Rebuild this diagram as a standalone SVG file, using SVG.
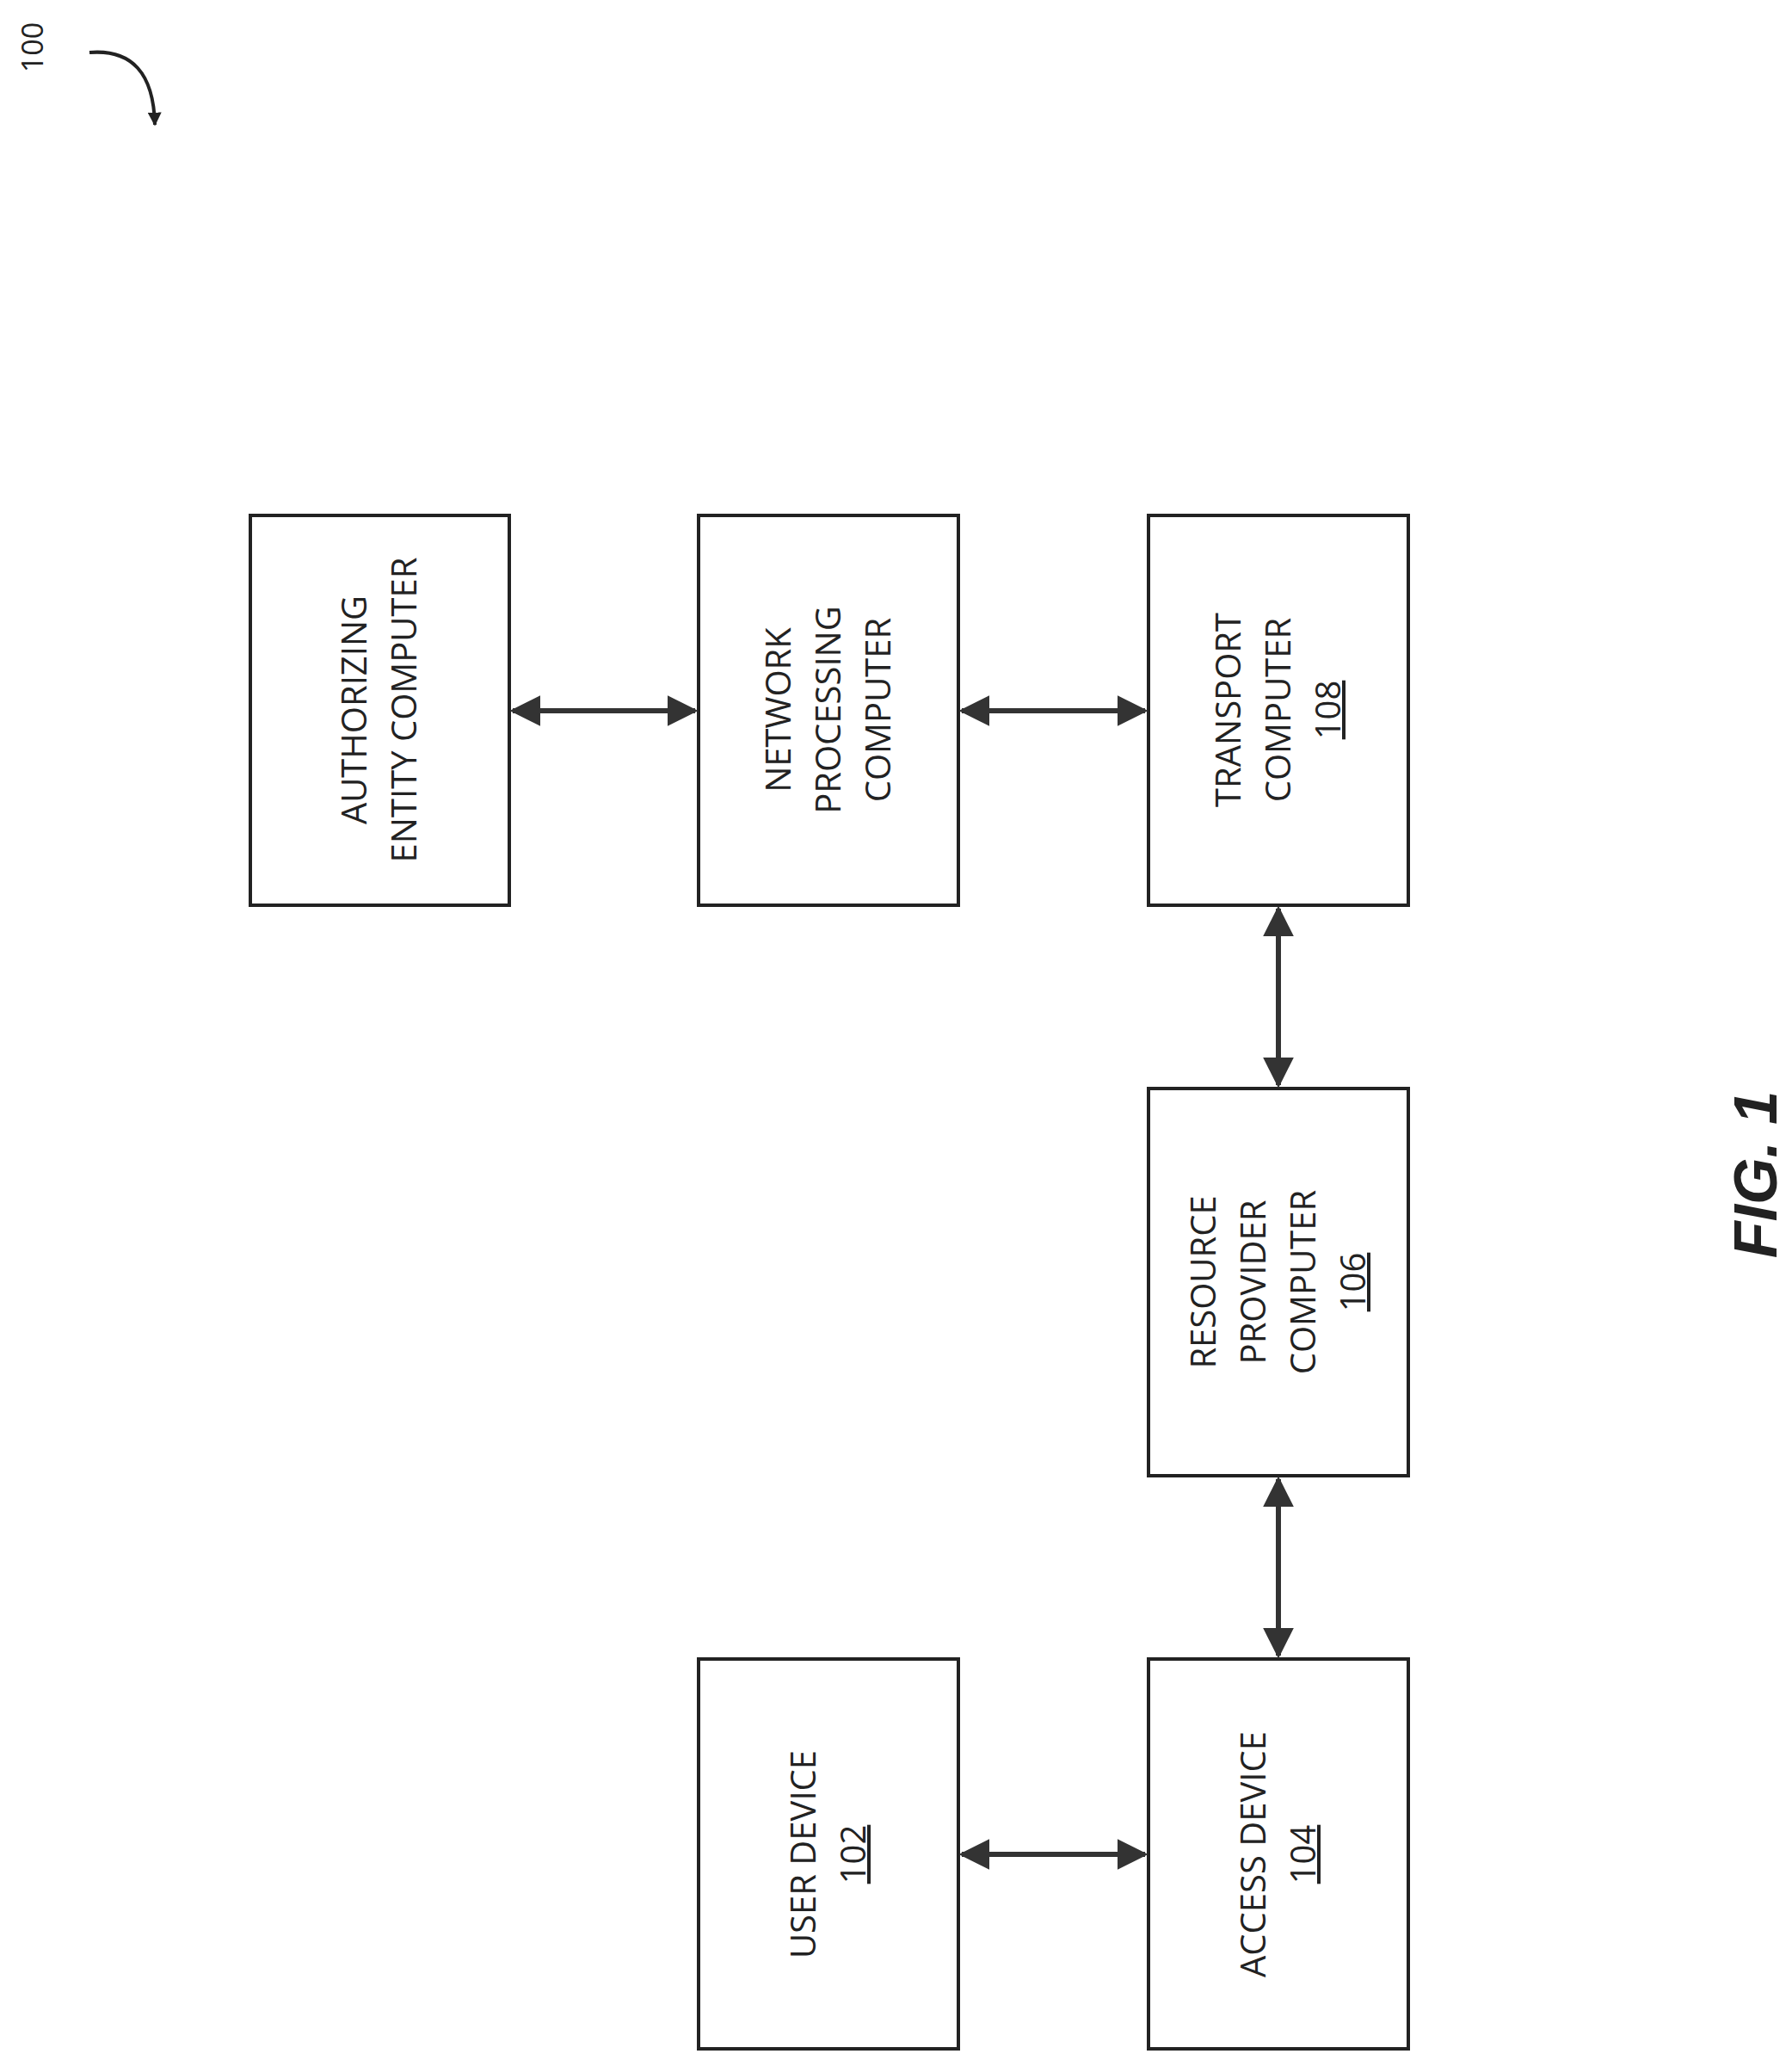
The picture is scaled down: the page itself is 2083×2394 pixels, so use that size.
<svg xmlns="http://www.w3.org/2000/svg" width="2083" height="2394" viewBox="0 0 2083 2394">
<style>
.box{fill:#fff;stroke:#222;stroke-width:4}
.t{font-family:"Open Sans","Liberation Sans",sans-serif;font-size:40px;fill:#222;text-anchor:middle}
.u{text-decoration:underline}
.c{stroke:#333;stroke-width:6;fill:none;marker-start:url(#a);marker-end:url(#a)}
</style>
<defs>
<marker id="a" viewBox="0 0 10 10" refX="9" refY="5" markerWidth="6" markerHeight="6" orient="auto-start-reverse"><path d="M0,0 L10,5 L0,10 z" fill="#333"/></marker>
<marker id="b" viewBox="0 0 10 10" refX="9" refY="5" markerWidth="4" markerHeight="4" orient="auto"><path d="M0,0 L10,5 L0,10 z" fill="#222"/></marker>
</defs>
<text class="t" transform="translate(50,55) rotate(-90)" style="font-size:34px">100</text>
<path d="M104,61 Q178,55 180,145" stroke="#222" stroke-width="4" fill="none" marker-end="url(#b)"/>
<g id="n112"><rect class="box" x="291" y="599" width="301" height="453"/>
<g transform="translate(441,825) rotate(-90)"><text class="t" y="-15">AUTHORIZING</text><text class="t" y="43">ENTITY COMPUTER</text><text class="t u" y="101"> </text></g>
</g>
<g id="n110"><rect class="box" x="812" y="599" width="302" height="453"/>
<g transform="translate(963,825) rotate(-90)"><text class="t" y="-44">NETWORK</text><text class="t" y="14">PROCESSING</text><text class="t" y="72">COMPUTER</text></g>
</g>
<g id="n108"><rect class="box" x="1335" y="599" width="302" height="453"/>
<g transform="translate(1486,825) rotate(-90)"><text class="t" y="-44">TRANSPORT</text><text class="t" y="14">COMPUTER</text><text class="t u" y="72">108</text></g>
</g>
<g id="n106"><rect class="box" x="1335" y="1265" width="302" height="450"/>
<g transform="translate(1486,1490) rotate(-90)"><text class="t" y="-73">RESOURCE</text><text class="t" y="-15">PROVIDER</text><text class="t" y="43">COMPUTER</text><text class="t u" y="101">106</text></g>
</g>
<g id="n102"><rect class="box" x="812" y="1928" width="302" height="453"/>
<g transform="translate(963,2155) rotate(-90)"><text class="t" y="-15">USER DEVICE</text><text class="t u" y="43">102</text></g>
</g>
<g id="n104"><rect class="box" x="1335" y="1928" width="302" height="453"/>
<g transform="translate(1486,2155) rotate(-90)"><text class="t" y="-15">ACCESS DEVICE</text><text class="t u" y="43">104</text></g>
</g>
<g id="connectors">
<line class="c" x1="596" y1="826" x2="808" y2="826"/>
<line class="c" x1="1118" y1="826" x2="1331" y2="826"/>
<line class="c" x1="1486" y1="1056" x2="1486" y2="1261"/>
<line class="c" x1="1486" y1="1719" x2="1486" y2="1924"/>
<line class="c" x1="1118" y1="2155" x2="1331" y2="2155"/>
</g>
<text transform="translate(2065,1365) rotate(-90)" style="font-family:'Liberation Sans',sans-serif;font-size:70px;font-weight:bold;font-style:italic;text-anchor:middle" fill="#222">FIG. 1</text>
</svg>
